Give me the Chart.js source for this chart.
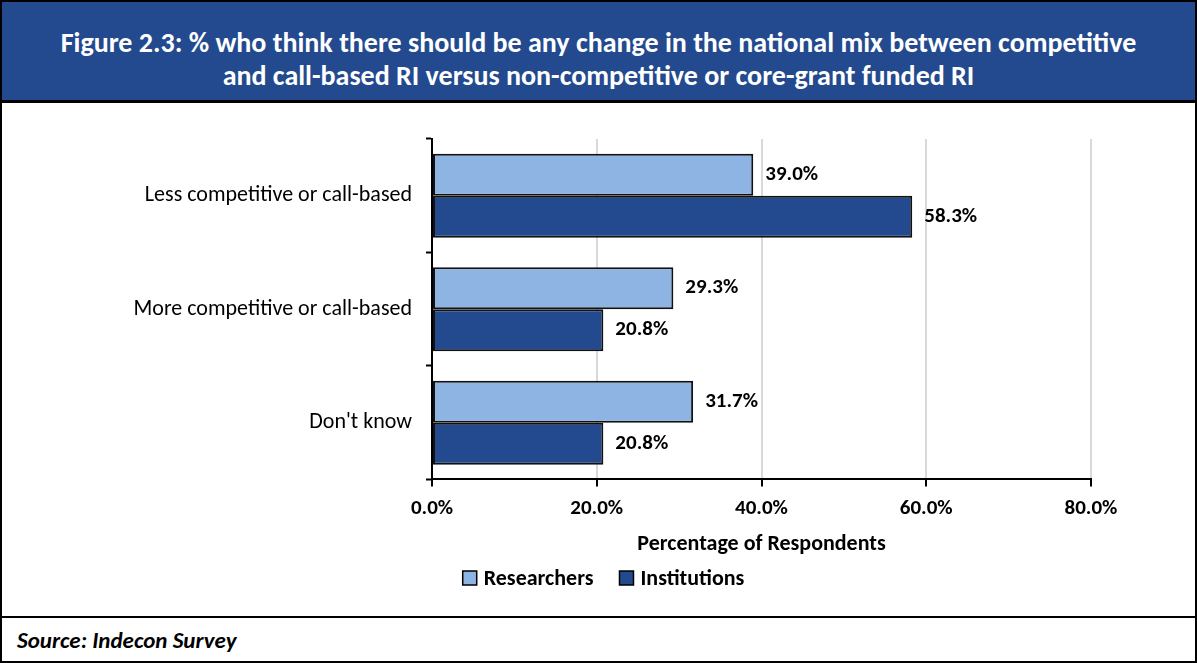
<!DOCTYPE html>
<html><head><meta charset="utf-8">
<script src="https://cdn.jsdelivr.net/npm/chart.js@4.4.1/dist/chart.umd.min.js"></script>
<style>
html,body{margin:0;padding:0;background:#fff;}
#frame{position:absolute;left:0;top:0;width:1193px;height:659px;border:2px solid #000;overflow:hidden;font-family:Carlito,Lato,"Open Sans",sans-serif;}
#title{position:absolute;left:0;top:0;width:1193px;height:101px;background:#234A8E;border-bottom:3px solid #000;color:#fff;font-weight:bold;font-size:28px;line-height:33px;text-align:center;display:flex;align-items:center;justify-content:center;padding-top:16px;box-sizing:border-box;}
#chartbox{position:absolute;left:0;top:104px;width:1193px;height:510px;}
#source{position:absolute;left:0;top:614px;width:1193px;height:45px;border-top:2px solid #000;font-weight:bold;font-style:italic;font-size:23px;line-height:45px;padding-left:15px;box-sizing:border-box;}
</style></head>
<body>
<div id="frame">
<div id="title"><div>Figure 2.3: % who think there should be any change in the national mix between competitive<br>and call-based RI versus non-competitive or core-grant funded RI</div></div>
<div id="chartbox"><canvas id="c"></canvas></div>
<div id="source">Source: Indecon Survey</div>
</div>
<script>
const categories = ["Less competitive or call-based", "More competitive or call-based", "Don't know"];
const researchers = [39.0, 29.3, 31.7];
const institutions = [58.3, 20.8, 20.8];
const xTicks = [0, 20, 40, 60, 80];
const seriesNames = ["Researchers", "Institutions"];

const FONT = "Carlito, Lato, 'Open Sans', sans-serif";

const valueLabels = {
  id: 'valueLabels',
  afterDatasetsDraw(chart) {
    const ctx = chart.ctx;
    ctx.save();
    ctx.font = "bold 21px " + FONT;
    ctx.fillStyle = '#000';
    ctx.textBaseline = 'middle';
    ctx.textAlign = 'left';
    chart.data.datasets.forEach((ds, i) => {
      chart.getDatasetMeta(i).data.forEach((bar, j) => {
        ctx.fillText(ds.data[j].toFixed(1) + '%', bar.x + 12, bar.y);
      });
    });
    ctx.restore();
  }
};

// Legend drawn under the axis title, using the datasets' own labels and colours
const bottomLegend = {
  id: 'bottomLegend',
  afterDraw(chart) {
    const ctx = chart.ctx;
    ctx.save();
    ctx.font = "bold 22px " + FONT;
    ctx.textBaseline = 'middle';
    ctx.textAlign = 'left';
    const box = 14, gapText = 7, gapItem = 26;
    const items = chart.data.datasets.map(ds => ({ds, w: ctx.measureText(ds.label).width}));
    const total = items.reduce((s, it) => s + box + gapText + it.w, 0) + gapItem * (items.length - 1);
    let x = chart.width / 2 + 5 - total / 2;
    const y = chart.height - 38;
    items.forEach(it => {
      ctx.fillStyle = it.ds.backgroundColor;
      ctx.fillRect(x, y - box / 2, box, box);
      ctx.strokeStyle = '#000';
      ctx.lineWidth = 1.5;
      ctx.strokeRect(x, y - box / 2, box, box);
      ctx.fillStyle = '#000';
      ctx.fillText(it.ds.label, x + box + gapText, y + 1);
      x += box + gapText + it.w + gapItem;
    });
    ctx.restore();
  }
};

new Chart(document.getElementById('c'), {
  type: 'bar',
  data: {
    labels: categories,
    datasets: [
      {label: seriesNames[0], data: researchers, backgroundColor: '#8EB4E3', borderColor: '#111', borderWidth: 2, borderSkipped: false, categoryPercentage: 0.74, barPercentage: 1.0},
      {label: seriesNames[1], data: institutions, backgroundColor: '#234A8E', borderColor: '#111', borderWidth: 2, borderSkipped: false, categoryPercentage: 0.74, barPercentage: 1.0}
    ]
  },
  options: {
    indexAxis: 'y',
    responsive: true,
    maintainAspectRatio: false,
    animation: false,
    layout: {padding: {top: 33, bottom: 58, left: 0, right: 0}},
    plugins: {
      legend: {display: false},
      tooltip: {enabled: false}
    },
    scales: {
      x: {
        min: 0, max: 80,
        afterBuildTicks(scale) { scale.ticks = xTicks.map(v => ({value: v})); },
        ticks: {font: {family: FONT, size: 21, weight: 'bold'}, color: '#000', padding: 10, callback: v => Number(v).toFixed(1) + '%'},
        grid: {color: ctx => ctx.index === 0 ? 'rgba(0,0,0,0)' : '#D9D9D9', lineWidth: 2, tickColor: '#000', tickLength: 7, tickWidth: 2},
        border: {color: '#000', width: 2},
        title: {display: true, text: 'Percentage of Respondents', font: {family: FONT, size: 22, weight: 'bold'}, color: '#000', padding: {top: 0, bottom: 0}}
      },
      y: {
        ticks: {font: {family: FONT, size: 22}, color: '#000', padding: 14},
        grid: {drawOnChartArea: false, offset: true, tickColor: '#000', tickLength: 6, tickWidth: 2},
        border: {color: '#000', width: 2},
        afterFit(scale) { scale.width = 430; }
      },
      yR: {
        type: 'category', position: 'right', axis: 'y',
        ticks: {display: false}, grid: {display: false}, border: {display: false},
        afterFit(scale) { scale.width = 104; }
      }
    }
  },
  plugins: [valueLabels, bottomLegend]
});
</script>
</body></html>
